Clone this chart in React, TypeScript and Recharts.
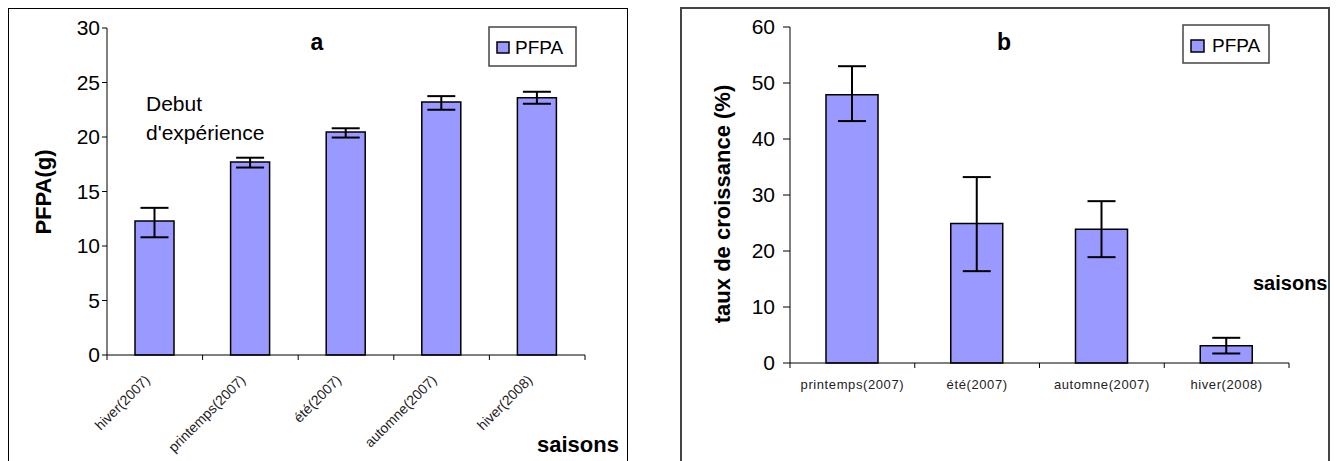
import { BarChart, Bar, XAxis, YAxis, ErrorBar } from "recharts";

// chart a : PFPA per season
const seasonsA = ["hiver(2007)", "printemps(2007)", "été(2007)", "automne(2007)", "hiver(2008)"];
const pfpaA = [12.3, 17.7, 20.45, 23.2, 23.6];
const errA = [[1.5, 1.2], [0.5, 0.4], [0.5, 0.35], [0.7, 0.55], [0.55, 0.55]];
const ticksA = [0, 5, 10, 15, 20, 25, 30];

// chart b : growth rate per season
const seasonsB = ["printemps(2007)", "été(2007)", "automne(2007)", "hiver(2008)"];
const tauxB = [47.9, 24.9, 23.9, 3.1];
const errB = [[4.7, 5.1], [8.5, 8.3], [5.0, 5.0], [1.4, 1.4]];
const ticksB = [0, 10, 20, 30, 40, 50, 60];

const dataA = seasonsA.map((s, i) => ({ name: s, value: pfpaA[i], err: errA[i] }));
const dataB = seasonsB.map((s, i) => ({ name: s, value: tauxB[i], err: errB[i] }));

const FONT = "'Liberation Sans', Arial, sans-serif";
const BAR = "#9999ff";

function CategoryTick(props: any) {
  const { x, y, payload, index, band, count, rotate } = props;
  const l = x - band / 2;
  const r = x + band / 2;
  return (
    <g>
      <line x1={l} y1={y} x2={l} y2={y + 5} stroke="#000" />
      {index === count - 1 && <line x1={r} y1={y} x2={r} y2={y + 5} stroke="#000" />}
      {rotate ? (
        <text
          x={x - 4}
          y={y + 26}
          transform={`rotate(-45, ${x - 4}, ${y + 26})`}
          textAnchor="end"
          fontSize={14}
          fontFamily={FONT}
          fill="#222"
        >
          {payload.value}
        </text>
      ) : (
        <text x={x} y={y + 26} textAnchor="middle" fontSize={13} letterSpacing={0.6} fontFamily={FONT} fill="#222">
          {payload.value}
        </text>
      )}
    </g>
  );
}

export default function App() {
  return (
    <div style={{ position: "absolute", left: 0, top: 0, width: 1336, height: 461, overflow: "hidden", background: "#fff" }}>
      <div style={{ position: "absolute", left: 8, top: 8, width: 618, height: 470, border: "1.5px solid #000" }} />
      <div style={{ position: "absolute", left: 680, top: 7, width: 646, height: 470, border: "2px solid #444" }} />

      <div style={{ position: "absolute", left: 0, top: 0 }}>
        <BarChart width={640} height={461} data={dataA} margin={{ top: 28, right: 55, left: 47, bottom: 26 }}>
          <XAxis
            dataKey="name"
            height={80}
            axisLine={{ stroke: "#000" }}
            tickLine={false}
            tickSize={0}
            tickMargin={0}
            interval={0}
            tick={(p: any) => <CategoryTick {...p} band={478 / seasonsA.length} count={seasonsA.length} rotate />}
          />
          <YAxis
            width={60}
            domain={[0, 30]}
            ticks={ticksA}
            axisLine={{ stroke: "#000" }}
            tickLine={{ stroke: "#000" }}
            tickSize={5}
            tickMargin={2}
            tick={{ fontSize: 21, fill: "#000", fontFamily: FONT }}
          />
          <Bar dataKey="value" fill={BAR} stroke="#000" strokeWidth={1.5} barSize={39} isAnimationActive={false}>
            <ErrorBar dataKey="err" width={14} stroke="#000" strokeWidth={2} />
          </Bar>
        </BarChart>
      </div>

      <div style={{ position: "absolute", left: 680, top: 0 }}>
        <BarChart width={656} height={461} data={dataB} margin={{ top: 27, right: 47, left: 50, bottom: 68 }}>
          <XAxis
            dataKey="name"
            height={30}
            axisLine={{ stroke: "#000" }}
            tickLine={false}
            tickSize={0}
            tickMargin={0}
            interval={0}
            tick={(p: any) => <CategoryTick {...p} band={499 / seasonsB.length} count={seasonsB.length} />}
          />
          <YAxis
            width={60}
            domain={[0, 60]}
            ticks={ticksB}
            axisLine={{ stroke: "#000" }}
            tickLine={{ stroke: "#000" }}
            tickSize={7}
            tickMargin={8}
            tick={{ fontSize: 21, fill: "#000", fontFamily: FONT }}
          />
          <Bar dataKey="value" fill={BAR} stroke="#000" strokeWidth={1.5} barSize={52} isAnimationActive={false}>
            <ErrorBar dataKey="err" width={14} stroke="#000" strokeWidth={2} />
          </Bar>
        </BarChart>
      </div>

      <svg width={1336} height={461} style={{ position: "absolute", left: 0, top: 0, pointerEvents: "none" }} fontFamily={FONT}>
        <text x={317} y={50} textAnchor="middle" fontSize={23} fontWeight="bold">a</text>
        <text x={1004} y={50} textAnchor="middle" fontSize={23} fontWeight="bold">b</text>
        <text x={146} y={111} fontSize={21}>Debut</text>
        <text x={146} y={140} fontSize={21}>d'expérience</text>
        <text transform="translate(51,192) rotate(-90)" textAnchor="middle" fontSize={22} fontWeight="bold">PFPA(g)</text>
        <text transform="translate(730,204) rotate(-90)" textAnchor="middle" fontSize={22} fontWeight="bold">taux de croissance (%)</text>
        <text x={537} y={452} fontSize={22} fontWeight="bold">saisons</text>
        <text x={1253} y={290} fontSize={20} fontWeight="bold">saisons</text>

        <rect x={489} y={27} width={87} height={39} fill="#fff" stroke="#444" strokeWidth={1.5} />
        <rect x={497} y={42} width={12} height={11} fill={BAR} stroke="#000" strokeWidth={1.5} />
        <text x={515} y={54} fontSize={19}>PFPA</text>

        <rect x={1183} y={25} width={86} height={38} fill="#fff" stroke="#444" strokeWidth={1.5} />
        <rect x={1191} y={40} width={13} height={12} fill={BAR} stroke="#000" strokeWidth={1.5} />
        <text x={1212} y={52} fontSize={19}>PFPA</text>
      </svg>
    </div>
  );
}
